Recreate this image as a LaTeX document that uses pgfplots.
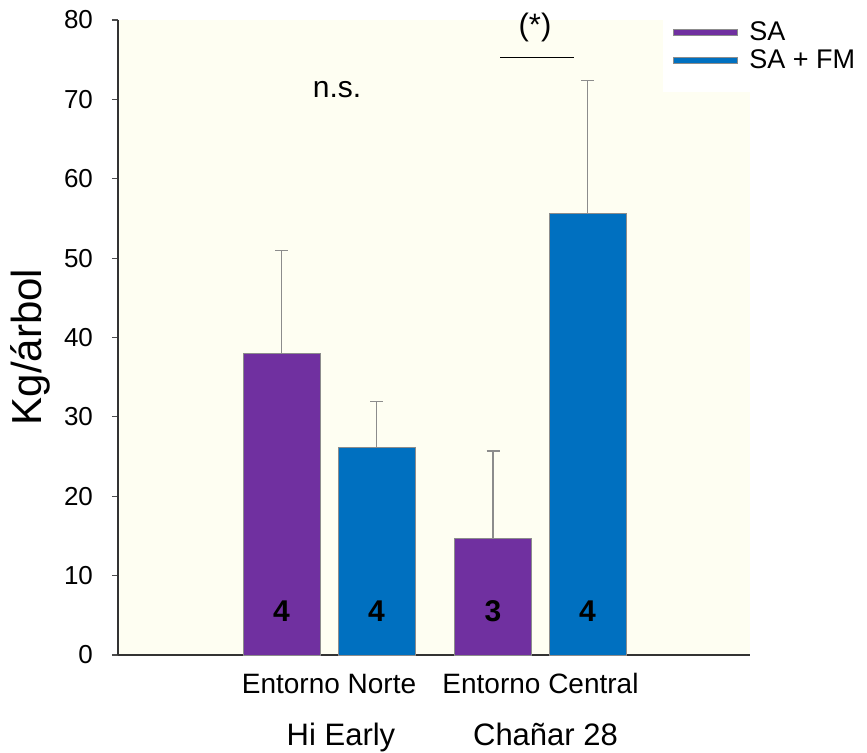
\documentclass[border=0pt]{standalone}
\usepackage{fontspec}
\setmainfont{Liberation Sans}
\usepackage{pgfplots}
\pgfplotsset{compat=1.18}

\definecolor{saPurple}{HTML}{7030A0}
\definecolor{fmBlue}{HTML}{0070C0}
\definecolor{panel}{HTML}{FEFEF2}
\definecolor{edge}{HTML}{8C8C8C}

\newcommand{\fs}[1]{\fontsize{#1}{1.2\dimexpr#1pt\relax}\selectfont}

\begin{document}
\begin{tikzpicture}
\path[use as bounding box] (-59pt,-48.5pt) rectangle (374.5pt,327.5pt);
\begin{axis}[
  at={(0,0)}, anchor=south west,
  scale only axis, width=316pt, height=317.5pt,
  xmin=0, xmax=6.32, ymin=0, ymax=80,
  clip=false,
  axis lines=left,
  axis line style={-, line width=0.8pt, black!80},
  axis background/.style={fill=panel},
  /pgf/number format/assume math mode=true,
  ytick={0,10,...,80},
  tick align=outside, major tick length=3pt,
  ytick style={black!70, line width=0.6pt},
  yticklabel style={font=\fs{13}, xshift=-6pt},
  xtick={2.11,4.225},
  xticklabels={Entorno Norte, Entorno Central},
  x tick style={draw=none},
  xticklabel style={font=\fs{14}, anchor=base, yshift=-16pt},
  ylabel={Kg/árbol},
  ylabel style={at={(axis description cs:-0.139,0.485)}, anchor=center, font=\fs{21}},
  legend cell align=left,
  legend image code/.code={\draw[#1, draw=edge, line width=0.4pt] (0pt,-1.5pt) rectangle (32pt,1.5pt);},
  legend style={at={(axis description cs:0.861,1.0315)}, anchor=north west,
    fill=white, draw=none, font=\fs{13.5},
    inner xsep=5pt, inner ysep=8.5pt, row sep=-1pt,
    /tikz/every odd column/.append style={column sep=4pt}},
]

% SA
\addplot[ybar, bar width=0.77, bar shift=0pt, fill=saPurple, draw=edge, line width=0.5pt,
  error bars/.cd, y dir=plus, y explicit,
  error bar style={edge, line width=0.6pt},
  error mark options={rotate=90, mark size=3.25pt, edge, line width=0.6pt}]
  coordinates {(1.635,38.0) +- (0,13.0) (3.750,14.7) +- (0,11.0)};
\addlegendentry{SA}

% SA + FM
\addplot[ybar, bar width=0.77, bar shift=0pt, fill=fmBlue, draw=edge, line width=0.5pt,
  error bars/.cd, y dir=plus, y explicit,
  error bar style={edge, line width=0.6pt},
  error mark options={rotate=90, mark size=3.25pt, edge, line width=0.6pt}]
  coordinates {(2.585,26.2) +- (0,5.7) (4.695,55.6) +- (0,16.8)};
\addlegendentry{SA + FM}

% sample sizes
\node[anchor=base, font=\fs{15}\bfseries] at (axis cs:1.635,4.16) {4};
\node[anchor=base, font=\fs{15}\bfseries] at (axis cs:2.585,4.16) {4};
\node[anchor=base, font=\fs{15}\bfseries] at (axis cs:3.750,4.16) {3};
\node[anchor=base, font=\fs{15}\bfseries] at (axis cs:4.695,4.16) {4};

% significance
\node[anchor=base, font=\fs{15}] at (axis cs:2.19,70.3) {n.s.};
\node[anchor=base, font=\fs{15.5}] at (axis cs:4.17,78.1) {(*)};
\draw[black, line width=0.5pt] (axis cs:3.82,75.3) -- (axis cs:4.56,75.3);

% cultivar names
\node[anchor=base, font=\fs{15.5}, yshift=-45pt] at (axis cs:2.23,0) {Hi Early};
\node[anchor=base, font=\fs{15.5}, yshift=-45pt] at (axis cs:4.275,0) {Chañar 28};
\end{axis}
\end{tikzpicture}
\end{document}
